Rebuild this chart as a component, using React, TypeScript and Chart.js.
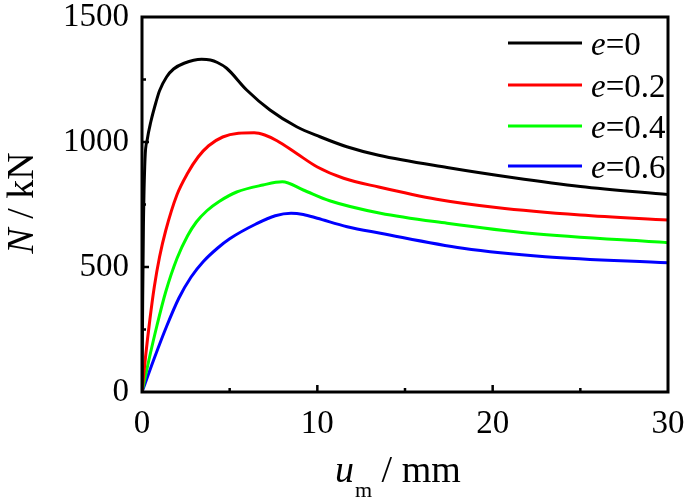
import React, { useEffect, useRef } from "react";
import { Chart, registerables } from "chart.js";

Chart.register(...registerables);

// Load–displacement curves: [u_m (mm), N (kN)]
const e0Points: [number, number][] = [
  [0, 0], [0.04, 380], [0.08, 660], [0.17, 930], [0.3, 1010], [0.5, 1080],
  [0.8, 1160], [1.0, 1205], [1.4, 1260], [1.8, 1292], [2.4, 1315],
  [3.4, 1331], [3.9, 1328], [4.3, 1318], [4.83, 1295], [5.97, 1208],
  [7.3, 1128], [8.82, 1061], [10.15, 1021], [11.68, 981], [13.5, 947],
  [17.4, 898], [21.2, 857], [25, 822], [30, 790],
];
const e02Points: [number, number][] = [
  [0, 0], [0.2, 140], [0.45, 290], [0.7, 420], [1.0, 540], [1.35, 645],
  [2.0, 790], [2.6, 875], [3.2, 940], [3.8, 985], [4.6, 1020],
  [5.5, 1035], [6.4, 1037], [7.0, 1028], [7.7, 1005], [8.8, 955],
  [10, 900], [11.5, 855], [13.5, 820], [16.8, 771], [20.2, 738],
  [25, 708], [30, 688],
];
const e04Points: [number, number][] = [
  [0, 0], [0.4, 130], [0.85, 265], [1.35, 400], [2.0, 535], [2.6, 625],
  [3.1, 680], [3.7, 725], [4.4, 762], [5.4, 800], [6.9, 828], [8.0, 841],
  [9.2, 808], [10.7, 765], [13.6, 715], [17.4, 675], [22.1, 635], [30, 597],
];
const e06Points: [number, number][] = [
  [0, 0], [0.7, 135], [1.4, 262], [2.1, 375], [2.8, 460], [3.5, 522],
  [4.3, 575], [5.0, 613], [6.5, 672], [7.6, 705], [8.5, 715], [9.2, 710],
  [10.0, 695], [11.7, 661], [13.6, 635], [18.3, 575], [23.0, 541], [30, 517],
];

const eLabels = ["0", "0.2", "0.4", "0.6"];
const seriesColors = ["#000000", "#ff0000", "#00ff00", "#0000ff"];
const xTickValues = [0, 10, 20, 30];
const yTickValues = [0, 500, 1000, 1500];

const SERIF = "'Liberation Serif', 'Times New Roman', serif";

const decorPlugin = {
  id: "decor",
  afterDatasetsDraw(chart: any) {
    const ctx = chart.ctx as CanvasRenderingContext2D;
    const { left, right, top, bottom } = chart.chartArea;
    const xs = chart.scales.x;
    const ys = chart.scales.y;
    ctx.save();
    // frame
    ctx.strokeStyle = "#000";
    ctx.lineWidth = 3;
    ctx.strokeRect(left, top, right - left, bottom - top);
    // inward ticks
    ctx.lineWidth = 2.5;
    for (let v = 5; v < 30; v += 5) {
      const px = xs.getPixelForValue(v);
      const len = v % 10 === 0 ? 7 : 4;
      ctx.beginPath();
      ctx.moveTo(px, bottom);
      ctx.lineTo(px, bottom - len);
      ctx.stroke();
    }
    for (let v = 250; v < 1500; v += 250) {
      const py = ys.getPixelForValue(v);
      const len = v % 500 === 0 ? 7 : 4;
      ctx.beginPath();
      ctx.moveTo(left, py);
      ctx.lineTo(left + len, py);
      ctx.stroke();
    }
    // legend
    const rowY = [43, 85, 126, 166];
    eLabels.forEach((lab, i) => {
      const y = rowY[i];
      ctx.strokeStyle = seriesColors[i];
      ctx.lineWidth = 3;
      ctx.beginPath();
      ctx.moveTo(508, y);
      ctx.lineTo(582, y);
      ctx.stroke();
      ctx.fillStyle = "#000";
      ctx.textBaseline = "alphabetic";
      ctx.textAlign = "left";
      ctx.font = `italic 33px ${SERIF}`;
      let x = 591;
      ctx.fillText("e", x, y + 12);
      x += ctx.measureText("e").width;
      ctx.font = `33px ${SERIF}`;
      ctx.fillText("=" + lab, x, y + 12);
    });
    // x title
    ctx.fillStyle = "#000";
    ctx.textAlign = "left";
    ctx.textBaseline = "alphabetic";
    let tx = 335;
    ctx.font = `italic 38px ${SERIF}`;
    ctx.fillText("u", tx, 482);
    tx += ctx.measureText("u").width + 1;
    ctx.font = `22px ${SERIF}`;
    ctx.fillText("m", tx, 497);
    tx += ctx.measureText("m").width;
    ctx.font = `38px ${SERIF}`;
    ctx.fillText(" / mm", tx, 482);
    // y title
    ctx.translate(33, 203);
    ctx.rotate(-Math.PI / 2);
    ctx.font = `italic 38px ${SERIF}`;
    const wN = ctx.measureText("N").width;
    ctx.font = `38px ${SERIF}`;
    const wRest = ctx.measureText(" / kN").width;
    let ty = -(wN + wRest) / 2;
    ctx.font = `italic 38px ${SERIF}`;
    ctx.fillText("N", ty, 0);
    ty += wN;
    ctx.font = `38px ${SERIF}`;
    ctx.fillText(" / kN", ty, 0);
    ctx.restore();
  },
};

export default function App() {
  const canvasRef = useRef<HTMLCanvasElement | null>(null);

  useEffect(() => {
    const canvas = canvasRef.current;
    if (!canvas) return;
    const all = [e0Points, e02Points, e04Points, e06Points];
    const chart = new Chart(canvas, {
      type: "line",
      data: {
        datasets: all.map((pts, i) => ({
          label: "e=" + eLabels[i],
          data: pts.map(([x, y]) => ({ x, y })),
          borderColor: seriesColors[i],
          backgroundColor: seriesColors[i],
          borderWidth: 3,
          pointRadius: 0,
          cubicInterpolationMode: "monotone" as const,
          fill: false,
        })),
      },
      options: {
        animation: false,
        responsive: false,
        devicePixelRatio: 1,
        layout: { padding: { left: 0, top: 17, right: 17, bottom: 0 } },
        plugins: {
          legend: { display: false },
          tooltip: { enabled: false },
        },
        scales: {
          x: {
            type: "linear",
            min: 0,
            max: 30,
            grid: { display: false, drawTicks: false },
            border: { display: false },
            afterFit: (s: any) => {
              s.height = 112;
              s.paddingLeft = 0;
              s.paddingRight = 0;
              s.paddingTop = 0;
              s.paddingBottom = 0;
            },
            afterBuildTicks: (s: any) => {
              s.ticks = xTickValues.map((v) => ({ value: v }));
            },
            ticks: {
              padding: 13,
              color: "#000",
              maxRotation: 0,
              font: { family: SERIF, size: 33 },
              callback: (v: any) => String(v),
            },
          },
          y: {
            type: "linear",
            min: 0,
            max: 1500,
            grid: { display: false, drawTicks: false },
            border: { display: false },
            afterFit: (s: any) => {
              s.width = 142;
              s.paddingLeft = 0;
              s.paddingRight = 0;
              s.paddingTop = 0;
              s.paddingBottom = 0;
            },
            afterBuildTicks: (s: any) => {
              s.ticks = yTickValues.map((v) => ({ value: v }));
            },
            ticks: {
              padding: 13,
              color: "#000",
              font: { family: SERIF, size: 33 },
              callback: (v: any) => String(v),
            },
          },
        },
      },
      plugins: [decorPlugin],
    });
    return () => chart.destroy();
  }, []);

  return (
    <div style={{ position: "fixed", left: 0, top: 0, width: 685, height: 504, background: "#fff" }}>
      <canvas ref={canvasRef} width={685} height={504} style={{ display: "block" }} />
    </div>
  );
}
